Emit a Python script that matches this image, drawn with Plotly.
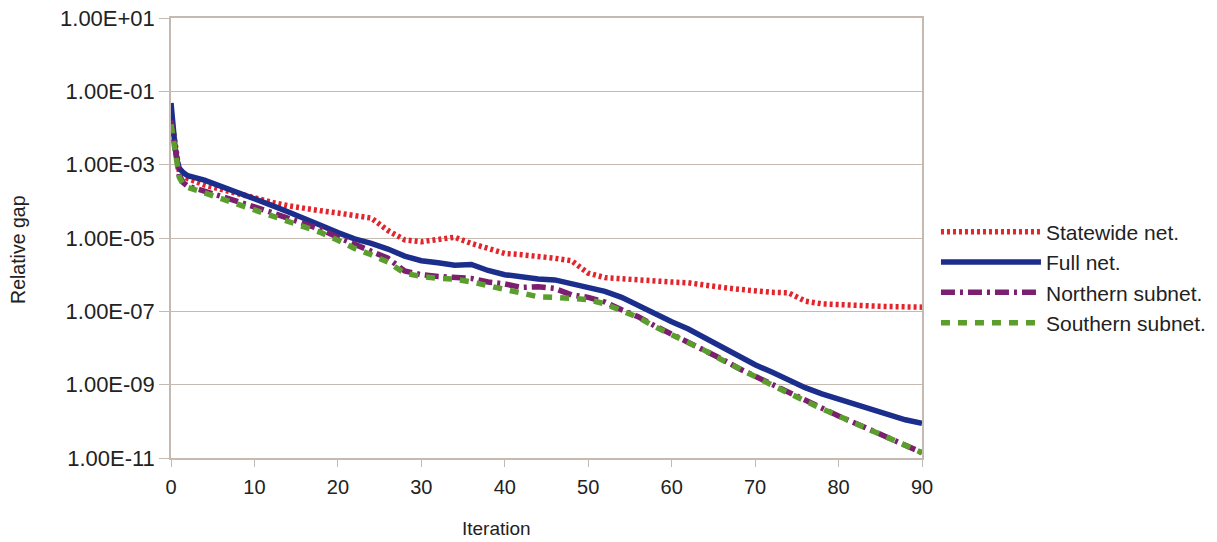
import plotly.graph_objects as go

iterations = [0, 0.25, 0.5, 0.75, 1, 1.5, 2, 4, 6, 8, 10, 12, 14, 16, 18, 20, 22, 24, 26, 28,
              30, 32, 34, 36, 38, 40, 42, 44, 46, 48, 50, 52, 54, 56, 58, 60, 62, 64, 66, 68,
              70, 72, 74, 76, 78, 80, 82, 84, 86, 88, 90]

statewide = [2.2e-2, 7.9e-3, 2.8e-3, 1.1e-3, 6.3e-4, 5.0e-4, 4.2e-4, 2.8e-4, 2.1e-4, 1.6e-4,
             1.2e-4, 9.5e-5, 7.6e-5, 6.3e-5, 5.5e-5, 4.8e-5, 4.2e-5, 3.5e-5, 1.6e-5, 8.9e-6,
             7.9e-6, 8.9e-6, 1.05e-5, 7.1e-6, 5.0e-6, 3.8e-6, 3.5e-6, 3.2e-6, 2.8e-6, 2.4e-6,
             1.1e-6, 8.3e-7, 7.6e-7, 7.2e-7, 6.6e-7, 6.3e-7, 6.0e-7, 5.0e-7, 4.5e-7, 4.0e-7,
             3.5e-7, 3.3e-7, 3.2e-7, 1.9e-7, 1.6e-7, 1.5e-7, 1.45e-7, 1.4e-7, 1.35e-7, 1.3e-7,
             1.3e-7]

full_net = [4.8e-2, 1.0e-2, 2.8e-3, 1.26e-3, 7.9e-4, 6.0e-4, 5.0e-4, 3.8e-4, 2.6e-4, 1.8e-4,
            1.2e-4, 7.9e-5, 5.2e-5, 3.5e-5, 2.2e-5, 1.4e-5, 9.5e-6, 7.1e-6, 5.0e-6, 3.2e-6,
            2.4e-6, 2.1e-6, 1.8e-6, 1.9e-6, 1.3e-6, 1.0e-6, 8.7e-7, 7.6e-7, 7.2e-7, 5.6e-7,
            4.7e-7, 3.5e-7, 2.4e-7, 1.4e-7, 8.3e-8, 5.2e-8, 3.3e-8, 1.9e-8, 1.05e-8, 6.0e-9,
            3.5e-9, 2.2e-9, 1.3e-9, 8.3e-10, 5.6e-10, 4.0e-10, 2.8e-10, 2.1e-10, 1.5e-10, 1.1e-10,
            8.9e-11]

northern = [1.6e-2, 6.3e-3, 2.2e-3, 1.0e-3, 5.0e-4, 3.2e-4, 2.6e-4, 1.9e-4, 1.4e-4, 1.0e-4,
            7.1e-5, 5.0e-5, 3.5e-5, 2.5e-5, 1.7e-5, 1.05e-5, 6.6e-6, 4.5e-6, 2.8e-6, 1.26e-6,
            1.0e-6, 8.9e-7, 8.3e-7, 7.9e-7, 6.3e-7, 5.6e-7, 4.5e-7, 4.7e-7, 4.2e-7, 2.8e-7,
            2.4e-7, 1.8e-7, 1.1e-7, 7.1e-8, 4.0e-8, 2.4e-8, 1.5e-8, 8.9e-9, 5.0e-9, 2.8e-9,
            1.7e-9, 1.0e-9, 6.0e-10, 3.5e-10, 2.2e-10, 1.4e-10, 8.9e-11, 5.6e-11, 3.5e-11, 2.2e-11,
            1.4e-11]

southern = [1.26e-2, 5.0e-3, 2.0e-3, 8.9e-4, 4.5e-4, 2.8e-4, 2.4e-4, 1.7e-4, 1.2e-4, 8.5e-5,
            6.0e-5, 4.3e-5, 3.0e-5, 2.1e-5, 1.4e-5, 8.7e-6, 5.2e-6, 3.5e-6, 2.2e-6, 1.1e-6,
            8.9e-7, 7.9e-7, 7.6e-7, 6.3e-7, 5.0e-7, 4.2e-7, 3.2e-7, 2.5e-7, 2.4e-7, 2.2e-7,
            2.1e-7, 1.6e-7, 1.07e-7, 6.8e-8, 3.8e-8, 2.3e-8, 1.45e-8, 8.5e-9, 4.8e-9, 2.75e-9,
            1.6e-9, 9.8e-10, 5.9e-10, 3.5e-10, 2.2e-10, 1.4e-10, 8.7e-11, 5.5e-11, 3.5e-11, 2.2e-11,
            1.4e-11]

series_names = ["Statewide net.", "Full net.", "Northern subnet.", "Southern subnet."]
y_tick_vals = [1e1, 1e-1, 1e-3, 1e-5, 1e-7, 1e-9, 1e-11]
y_tick_text = ["1.00E+01", "1.00E-01", "1.00E-03", "1.00E-05", "1.00E-07", "1.00E-09", "1.00E-11"]
x_tick_vals = [0, 10, 20, 30, 40, 50, 60, 70, 80, 90]

styles = [
    dict(color="#e3242b", width=5.5, dash="3px,3px"),
    dict(color="#1c2e8c", width=5.5, dash="solid"),
    dict(color="#7d1f70", width=5.5, dash="14px,5px,3px,5px"),
    dict(color="#5b9e2e", width=5.5, dash="9px,8px"),
]

fig = go.Figure()
for i, (name, ys) in enumerate(zip(series_names, [statewide, full_net, northern, southern])):
    fig.add_trace(go.Scatter(x=iterations, y=ys, mode="lines", name=name,
                             line=styles[i], legendgroup=name))

grid_col = "#c4bab2"
fig.update_layout(
    width=1217, height=542,
    margin=dict(l=171, r=295, t=18, b=84, autoexpand=False),
    paper_bgcolor="white", plot_bgcolor="white",
    font=dict(family="Liberation Sans, Arial, sans-serif", size=19, color="#222222"),
    legend=dict(x=1.0186, xanchor="left", xref="paper", y=0.41, yanchor="middle",
                itemwidth=100, font=dict(size=21, color="#222222"),
                tracegroupgap=0, bgcolor="rgba(0,0,0,0)"),
    showlegend=True,
)
fig.update_xaxes(range=[0, 90], tickvals=x_tick_vals, showgrid=False, automargin=False,
                 showline=True, linecolor=grid_col, linewidth=1.5, mirror=True,
                 ticks="outside", ticklen=7, tickcolor=grid_col, ticklabelstandoff=3,
                 ticklabeloverflow="allow",
                 tickfont=dict(size=20), zeroline=False)
fig.update_yaxes(type="log", range=[-11, 1], tickvals=y_tick_vals, ticktext=y_tick_text,
                 showgrid=True, gridcolor=grid_col, gridwidth=1.2, automargin=False,
                 showline=True, linecolor=grid_col, linewidth=1.5, mirror=True,
                 ticks="outside", ticklen=10, tickcolor=grid_col, ticklabelstandoff=0,
                 ticklabeloverflow="allow",
                 tickfont=dict(size=22), zeroline=False)
fig.add_annotation(text="Relative gap", xref="paper", yref="paper",
                   x=-0.2037, y=0.473, xanchor="center", yanchor="middle",
                   textangle=-90, showarrow=False, font=dict(size=19.5, color="#222222"))
fig.add_annotation(text="Iteration", xref="paper", yref="paper",
                   x=0.434, y=-0.161, xanchor="center", yanchor="middle",
                   showarrow=False, font=dict(size=19, color="#222222"))

fig.write_html("out.html", config={"displayModeBar": False},
               post_script="document.body.style.margin='0';")
